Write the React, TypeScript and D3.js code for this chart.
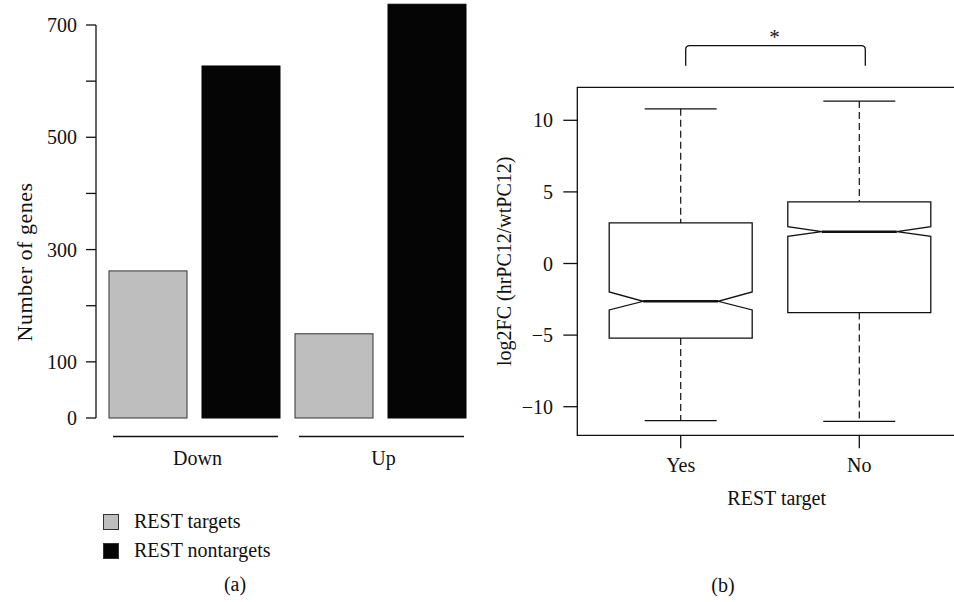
import React from "react";
import * as d3 from "d3";

// ---------- data ----------
const groups = ["Down", "Up"];
const seriesNames = ["REST targets", "REST nontargets"];
const targetCounts = [262, 150];
const nontargetCounts = [627, 737];
const barTicks = [0, 100, 200, 300, 400, 500, 600, 700];
const barTickLabels = ["0", "100", "", "300", "", "500", "", "700"];

const boxCategories = ["Yes", "No"];
const whiskerLow = [-10.97, -11.02];
const quart1 = [-5.21, -3.43];
const medians = [-2.64, 2.22];
const quart3 = [2.83, 4.31];
const whiskerHigh = [10.8, 11.34];
const notchLow = [-3.24, 1.9];
const notchHigh = [-1.99, 2.57];
const boxTicks = [-10, -5, 0, 5, 10];
const boxTickLabels = ["\u221210", "\u22125", "0", "5", "10"];

const FONT = "'Liberation Serif', 'DejaVu Serif', serif";
const FS = 20;
const GRAY = "#bebebe";
const INK = "#111";

export default function App() {
  // ---------- left panel scales ----------
  const barKeys: string[] = [];
  const barVals: number[] = [];
  const barFill: string[] = [];
  groups.forEach((g, i) => {
    barKeys.push(g + "|t");
    barVals.push(targetCounts[i]);
    barFill.push(GRAY);
    barKeys.push(g + "|n");
    barVals.push(nontargetCounts[i]);
    barFill.push("#050505");
  });
  const xb = d3.scaleBand<string>().domain(barKeys).range([109, 466]).paddingInner(15 / 93).paddingOuter(0);
  const yb = d3.scaleLinear().domain([0, 700]).range([418, 25]);
  const bw = xb.bandwidth();
  const axisX = 96;

  // ---------- right panel scales ----------
  const yr = d3.scaleLinear().domain([-10, 10]).range([406.7, 120.3]);
  const xr = d3.scalePoint<string>().domain(boxCategories).range([680.7, 859.3]);
  const frameL = 577.3, frameT = 87.3, frameB = 435.3, frameR = 962;
  const halfBox = 71.5, halfCap = 36, notchIn = 34;

  return (
    <svg
      width={954}
      height={602}
      style={{ position: "absolute", left: 0, top: 0, background: "#fff" }}
      fontFamily={FONT}
      fontSize={FS}
    >
      {/* ================= Panel (a) ================= */}
      <line x1={axisX} x2={axisX} y1={yb(0)} y2={yb(700)} stroke={INK} strokeWidth={1.3} />
      {barTicks.map((t, i) => (
        <g key={"bt" + t}>
          <line x1={axisX - 10} x2={axisX} y1={yb(t)} y2={yb(t)} stroke={INK} strokeWidth={1.3} />
          {barTickLabels[i] && (
            <text x={77} y={yb(t)} dy="0.35em" textAnchor="end" fill={INK}>
              {barTickLabels[i]}
            </text>
          )}
        </g>
      ))}
      <text
        transform={`translate(32,${262}) rotate(-90)`}
        textAnchor="middle"
        fill={INK}
        fontSize={22}
        letterSpacing={0.5}
      >
        Number of genes
      </text>

      {barKeys.map((k, i) => (
        <rect
          key={k}
          x={xb(k)!}
          y={yb(barVals[i])}
          width={bw}
          height={yb(0) - yb(barVals[i])}
          fill={barFill[i]}
          stroke={i % 2 === 0 ? "#333" : "#050505"}
          strokeWidth={1}
        />
      ))}

      {groups.map((g) => {
        const x0 = xb(g + "|t")!;
        const x1 = xb(g + "|n")! + bw;
        const cx = (x0 + x1) / 2 + 3;
        return (
          <g key={"grp" + g}>
            <line x1={x0 + 4} x2={x1 - 2} y1={436.5} y2={436.5} stroke={INK} strokeWidth={1.3} />
            <text x={cx} y={465} textAnchor="middle" fill={INK}>
              {g}
            </text>
          </g>
        );
      })}

      {seriesNames.map((s, i) => (
        <g key={"leg" + s}>
          <rect
            x={103.5}
            y={514.5 + i * 29}
            width={15}
            height={15}
            fill={i === 0 ? GRAY : "#050505"}
            stroke="#333"
            strokeWidth={1}
          />
          <text x={134} y={528 + i * 29} fill={INK}>
            {s}
          </text>
        </g>
      ))}
      <text x={235} y={591} textAnchor="middle" fill={INK}>
        (a)
      </text>

      {/* ================= Panel (b) ================= */}
      <path
        d={`M${frameR},${frameT} L${frameL},${frameT} L${frameL},${frameB} L${frameR},${frameB}`}
        fill="none"
        stroke={INK}
        strokeWidth={1.3}
      />
      {boxTicks.map((t, i) => (
        <g key={"rt" + t}>
          <line x1={frameL - 14} x2={frameL} y1={yr(t)} y2={yr(t)} stroke={INK} strokeWidth={1.3} />
          <text x={553} y={yr(t)} dy="0.35em" textAnchor="end" fill={INK}>
            {boxTickLabels[i]}
          </text>
        </g>
      ))}
      <text transform={`translate(511,${(frameT + frameB) / 2}) rotate(-90)`} textAnchor="middle" fill={INK}>
        log2FC (hrPC12/wtPC12)
      </text>

      {boxCategories.map((c, i) => {
        const cx = xr(c)!;
        const l = cx - halfBox, r = cx + halfBox;
        const pts: [number, number][] = [
          [l, yr(quart3[i])],
          [r, yr(quart3[i])],
          [r, yr(notchHigh[i])],
          [r - notchIn, yr(medians[i])],
          [r, yr(notchLow[i])],
          [r, yr(quart1[i])],
          [l, yr(quart1[i])],
          [l, yr(notchLow[i])],
          [l + notchIn, yr(medians[i])],
          [l, yr(notchHigh[i])],
        ];
        const line = d3.line();
        return (
          <g key={"box" + c}>
            <line x1={cx} x2={cx} y1={yr(whiskerHigh[i])} y2={yr(quart3[i])} stroke={INK} strokeWidth={1.2} strokeDasharray="7,4" />
            <line x1={cx} x2={cx} y1={yr(quart1[i])} y2={yr(whiskerLow[i])} stroke={INK} strokeWidth={1.2} strokeDasharray="7,4" />
            <line x1={cx - halfCap} x2={cx + halfCap} y1={yr(whiskerHigh[i])} y2={yr(whiskerHigh[i])} stroke={INK} strokeWidth={1.3} />
            <line x1={cx - halfCap} x2={cx + halfCap} y1={yr(whiskerLow[i])} y2={yr(whiskerLow[i])} stroke={INK} strokeWidth={1.3} />
            <path d={line(pts)! + "Z"} fill="#fff" stroke={INK} strokeWidth={1.3} />
            <line x1={l + notchIn} x2={r - notchIn} y1={yr(medians[i])} y2={yr(medians[i])} stroke={INK} strokeWidth={2.6} />
            <line x1={cx} x2={cx} y1={frameB} y2={frameB + 13} stroke={INK} strokeWidth={1.3} />
            <text x={cx} y={472} textAnchor="middle" fill={INK}>
              {c}
            </text>
          </g>
        );
      })}
      <text x={776.7} y={505} textAnchor="middle" fill={INK}>
        REST target
      </text>

      {(() => {
        const bx0 = xr(boxCategories[0])! + 5;
        const bx1 = xr(boxCategories[1])! + 6;
        const top = 45.7, bot = 65.7, rr = 4;
        const d = `M${bx0},${bot} L${bx0},${top + rr} Q${bx0},${top} ${bx0 + rr},${top} L${bx1 - rr},${top} Q${bx1},${top} ${bx1},${top + rr} L${bx1},${bot}`;
        return (
          <g>
            <path d={d} fill="none" stroke={INK} strokeWidth={1.3} />
            <text x={(bx0 + bx1) / 2 - 1} y={44} textAnchor="middle" fill={INK} fontSize={21}>
              *
            </text>
          </g>
        );
      })()}
      <text x={723} y={592} textAnchor="middle" fill={INK}>
        (b)
      </text>
    </svg>
  );
}
